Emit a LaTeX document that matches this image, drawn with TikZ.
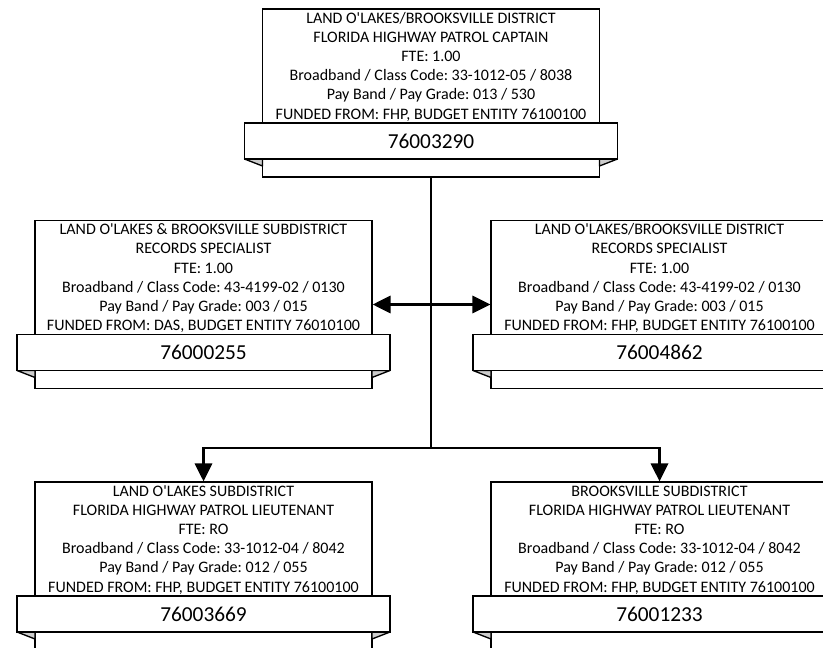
\documentclass[tikz,border=0pt]{standalone}
\usepackage{fontspec}
\setmainfont{Carlito}[Ligatures=TeXOff]
\usetikzlibrary{arrows.meta}
\frenchspacing

% one position: box, number banner with folds, title lines
\newcommand{\fhpbox}[4]{%
\begin{scope}[shift={(#2)}]
\node[posn] (#1) at (0,0) {};
\filldraw[fold] (-186.5,66) -- (-168.5,66) -- (-168.5,73) -- cycle;
\filldraw[fold] (186.5,66) -- (168.5,66) -- (168.5,73) -- cycle;
\node[banner] (#1-num) at (0,48) {#4};
\node[title] (#1-txt) at (0,-83.6) {\strut #3};
\end{scope}}

\begin{document}
\begin{tikzpicture}[x=0.75pt,y=-0.75pt,
  posn/.style={draw,line width=1pt,fill=white,minimum width=252.75pt,minimum height=126pt},
  banner/.style={draw,line width=1.2pt,fill=white,minimum width=279.75pt,minimum height=27pt,
    inner sep=0pt,font=\fontsize{16}{19}\selectfont},
  fold/.style={fill=black!20,draw,line width=1pt,line join=round},
  title/.style={anchor=north,inner sep=0pt,align=center,font=\fontsize{12}{14.4}\selectfont},
  conn/.style={line width=1.8pt},
  tip/.style={-{Triangle[length=13.5pt,width=13pt]}}]
\clip (0,0) rectangle (823,648);

\fhpbox{capt}{431,93}{LAND O'LAKES/BROOKSVILLE DISTRICT\\FLORIDA HIGHWAY PATROL CAPTAIN\\FTE: 1.00\\Broadband / Class Code: 33-1012-05 / 8038\\Pay Band / Pay Grade: 013 / 530\\FUNDED FROM: FHP, BUDGET ENTITY 76100100}{76003290}

\fhpbox{recs1}{203.5,304.5}{LAND O'LAKES \& BROOKSVILLE SUBDISTRICT\\RECORDS SPECIALIST\\FTE: 1.00\\Broadband / Class Code: 43-4199-02 / 0130\\Pay Band / Pay Grade: 003 / 015\\FUNDED FROM: DAS, BUDGET ENTITY 76010100}{76000255}

\fhpbox{recs2}{659.5,304.5}{LAND O'LAKES/BROOKSVILLE DISTRICT\\RECORDS SPECIALIST\\FTE: 1.00\\Broadband / Class Code: 43-4199-02 / 0130\\Pay Band / Pay Grade: 003 / 015\\FUNDED FROM: FHP, BUDGET ENTITY 76100100}{76004862}

\fhpbox{lt1}{203.5,566}{LAND O'LAKES SUBDISTRICT\\FLORIDA HIGHWAY PATROL LIEUTENANT\\FTE: RO\\Broadband / Class Code: 33-1012-04 / 8042\\Pay Band / Pay Grade: 012 / 055\\FUNDED FROM: FHP, BUDGET ENTITY 76100100}{76003669}

\fhpbox{lt2}{659.5,566}{BROOKSVILLE SUBDISTRICT\\FLORIDA HIGHWAY PATROL LIEUTENANT\\FTE: RO\\Broadband / Class Code: 33-1012-04 / 8042\\Pay Band / Pay Grade: 012 / 055\\FUNDED FROM: FHP, BUDGET ENTITY 76100100}{76001233}

% reporting lines
\coordinate (hub) at (431,448);
\draw[conn] (capt.south) -- (hub);
\draw[conn,tip] (hub) -| (lt1.north);
\draw[conn,tip] (hub) -| (lt2.north);
\draw[conn,{Triangle[length=13.5pt,width=13pt]}-{Triangle[length=13.5pt,width=13pt]}] (recs1.east) -- (recs2.west);
\end{tikzpicture}
\end{document}
